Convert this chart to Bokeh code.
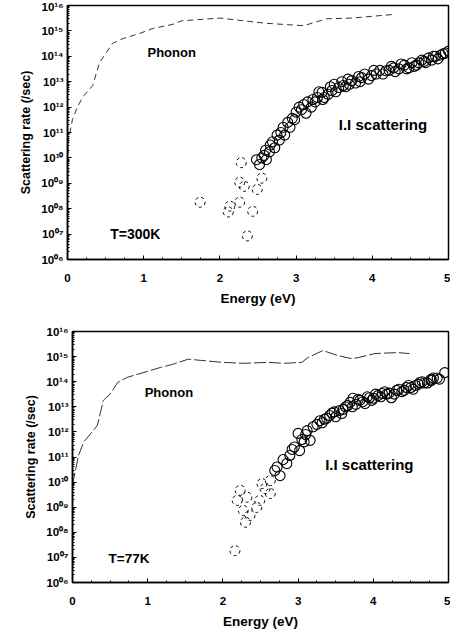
from bokeh.plotting import figure
from bokeh.layouts import column, row
from bokeh.models import FixedTicker, CustomJSTickFormatter, Label, Range1d
from bokeh.embed import file_html
from bokeh.resources import INLINE

# ---------------- data ----------------
energy_ticks = [0, 1, 2, 3, 4, 5]
rate_ticks = [1e6, 1e7, 1e8, 1e9, 1e10, 1e11, 1e12, 1e13, 1e14, 1e15, 1e16]

# T = 300 K
phonon300_e = [0.005, 0.01, 0.065, 0.13, 0.2, 0.33, 0.42, 0.59, 0.73, 0.95, 1.12,
               1.38, 1.5, 2.0, 2.6, 3.1, 3.4, 3.73, 4.3]
phonon300_r = [1e9, 5e10, 3.2e11, 1e12, 2.5e12, 7e12, 5.6e13, 3.2e14, 5e14, 8e14, 1.25e15,
               1.8e15, 2.5e15, 3.2e15, 2e15, 1.6e15, 3.0e15, 3.2e15, 4.5e15]

ii300_tail_e = [1.74, 2.11, 2.13, 2.26, 2.36, 2.43, 2.32, 2.49, 2.28, 2.55, 2.26]
ii300_tail_r = [1.8e8, 7.4e7, 1.26e8, 1.8e8, 8.5e6, 7.9e7, 7.6e8, 5.75e8, 6.5e9, 1.6e9, 1.1e9]

ii300_e = [2.48, 2.52, 2.61, 2.65, 2.69, 2.72, 2.58, 2.78, 2.8, 2.85, 2.89, 2.92, 2.95,
           3.0, 3.04, 3.1, 3.13, 3.2, 3.25, 3.28, 3.34, 3.37, 3.42, 3.47, 3.5, 3.56,
           3.62, 3.68, 3.73, 3.78, 3.86, 3.9, 3.99, 4.05, 4.1, 4.18, 4.25, 4.3, 4.35,
           4.42, 4.48, 4.55, 4.61, 4.68, 4.74, 4.78, 4.83, 4.9, 4.96,
           3.3, 3.35, 3.45, 3.52, 3.6, 3.65, 3.7, 3.82, 3.84, 3.95, 4.02, 4.14, 4.22,
           4.28, 4.38, 4.45, 4.52, 4.58, 4.65, 4.7, 4.8, 4.86, 4.93, 5.0, 3.15, 3.22,
           3.07, 2.98, 2.83, 2.75, 2.66, 2.6, 2.55]
ii300_r = [8.5e9, 5.5e9, 8.5e9, 1.74e10, 4.3e10, 2.5e10, 1.26e10, 5e10, 1e11, 7.9e10,
           2.5e11, 1.6e11, 3.6e11, 6.3e11, 1e12, 1.26e12, 5.75e11, 1e12, 1.6e12, 2.4e12,
           3.8e12, 2.4e12, 3.2e12, 4.5e12, 7.9e12, 5.9e12, 7.1e12, 1.26e13, 1.1e13,
           8.9e12, 1.45e13, 2e13, 1.74e13, 2e13, 2.8e13, 2.7e13, 4e13, 2.5e13, 3.2e13,
           4.5e13, 3.5e13, 4e13, 5.5e13, 6.3e13, 8.7e13, 7.1e13, 1e14, 1.12e14, 1.35e14,
           4e12, 2e12, 6.3e12, 4e12, 1e13, 6.3e12, 7.9e12, 1.6e13, 1e13, 1.26e13, 2.8e13,
           2e13, 2.8e13, 3.5e13, 5e13, 3.2e13, 5.6e13, 4.5e13, 7.1e13, 5.6e13, 1e14,
           7.9e13, 1.26e14, 1.6e14, 1.6e12, 2e12, 7.9e11, 3.2e11, 1.6e11, 7.9e10, 3.2e10,
           2e10, 1e10]

# T = 77 K
phonon77_e = [0.0, 0.08, 0.15, 0.33, 0.41, 0.5, 0.6, 0.73, 0.94, 1.17, 1.34, 1.54, 1.7,
              1.99, 2.29, 2.6, 2.82, 3.05, 3.13, 3.33, 3.53, 3.71, 3.8, 4.02, 4.32, 4.48]
phonon77_r = [7.9e9, 1.15e11, 4e11, 1.8e12, 1.8e13, 3.2e13, 9.3e13, 1.5e14, 2.3e14,
              3.7e14, 5e14, 7.9e14, 7.1e14, 5.9e14, 5.4e14, 5.9e14, 5.4e14, 5.9e14,
              9.1e14, 1.74e15, 1.1e15, 8.3e14, 9.1e14, 1.32e15, 1.45e15, 1.32e15]

ii77_tail_e = [2.16, 2.19, 2.23, 2.27, 2.32, 2.36, 2.45, 2.49, 2.52, 2.56, 2.63, 2.63, 2.3]
ii77_tail_r = [1.86e7, 1.86e9, 4.7e9, 7.4e8, 2.5e9, 4.7e8, 9.8e8, 1.86e9, 8.7e9, 5.5e9,
               3.5e9, 1.15e10, 2.5e8]

ii77_e = [2.69, 2.76, 2.85, 2.89, 2.95, 3.02, 3.0, 3.08, 3.1, 3.16, 3.2, 3.29, 3.32,
          3.38, 3.42, 3.48, 3.55, 3.58, 3.63, 3.69, 3.73, 3.77, 3.82, 3.89, 3.95, 4.0,
          4.06, 4.12, 4.18, 4.24, 4.31, 4.38, 4.44, 4.5, 4.56, 4.62, 4.68, 4.77, 4.77,
          4.85, 4.95,
          3.25, 3.35, 3.45, 3.5, 3.6, 3.66, 3.72, 3.8, 3.86, 3.92, 3.98, 4.03, 4.1,
          4.15, 4.21, 4.28, 4.34, 4.41, 4.47, 4.53, 4.6, 4.65, 4.72, 4.8, 4.88, 3.12,
          3.05, 2.92, 2.8, 2.72]
ii77_r = [2.9e10, 1.8e10, 5.5e10, 1.15e11, 2.5e11, 1.8e11, 8.7e11, 4e11, 7.9e11, 4.6e11,
          1.6e12, 2.8e12, 2.3e12, 3.5e12, 4.5e12, 6.3e12, 7.1e12, 5.4e12, 1e13, 1.5e13,
          2.2e13, 1.26e13, 1.8e13, 1.35e13, 2.3e13, 2.2e13, 2.8e13, 3.4e13, 3.2e13,
          2.3e13, 4.5e13, 4e13, 5.9e13, 5.9e13, 7.1e13, 9.3e13, 8.9e13, 1.12e14,
          1.26e14, 1.4e14, 2.3e14,
          2e12, 3.2e12, 5.6e12, 4e12, 7.9e12, 1.12e13, 1e13, 2e13, 1.6e13, 2.5e13,
          1.8e13, 3.2e13, 2.5e13, 4e13, 3.5e13, 3.2e13, 5e13, 4.5e13, 7.1e13, 5e13,
          7.9e13, 1e14, 8.9e13, 1.4e14, 1.26e14, 1.12e12, 5e11, 2e11, 7.9e10, 4e10]

FONT = "Liberation Sans"

SUP_JS = """
const sup = {"0":"\u2070","1":"\u00b9","2":"\u00b2","3":"\u00b3","4":"\u2074",
             "5":"\u2075","6":"\u2076","7":"\u2077","8":"\u2078","9":"\u2079"};
const e = Math.round(Math.log10(tick));
const s = String(e).padStart(2, "0");
return "10" + s.split("").map(c => sup[c]).join("");
"""


def make_panel(height, border_left, border_top, border_bottom,
               ph_e, ph_r, ph_dash, tail_e, tail_r, main_e, main_r,
               labels):
    p = figure(width=450, height=height, x_range=Range1d(0, 5),
               y_range=Range1d(1e6, 1e16), y_axis_type="log",
               output_backend="svg", toolbar_location=None,
               min_border_left=border_left, min_border_right=2,
               min_border_top=border_top, min_border_bottom=border_bottom,
               background_fill_color="white", border_fill_color="white")
    p.xgrid.visible = False
    p.ygrid.visible = False
    p.outline_line_color = "black"
    p.outline_line_width = 1.5

    minor_y = [m * 10 ** k for k in range(6, 16) for m in range(2, 10)]
    p.yaxis.ticker = FixedTicker(ticks=rate_ticks, minor_ticks=minor_y)
    p.yaxis.formatter = CustomJSTickFormatter(code=SUP_JS)
    minor_x = [i * 0.25 for i in range(21)]
    p.xaxis.ticker = FixedTicker(ticks=energy_ticks, minor_ticks=minor_x)

    for ax in (p.xaxis[0], p.yaxis[0]):
        ax.axis_line_color = "black"
        ax.axis_line_width = 1.5
        ax.major_tick_in = 4
        ax.major_tick_out = 0
        ax.minor_tick_in = 2
        ax.minor_tick_out = 0
        ax.major_tick_line_color = "black"
        ax.minor_tick_line_color = "black"
        ax.major_label_text_font = FONT
        ax.major_label_text_font_style = "bold"
        ax.major_label_text_color = "black"
        ax.axis_label_text_font = FONT
        ax.axis_label_text_font_style = "bold"
        ax.axis_label_text_color = "black"

    p.xaxis.major_label_text_font_size = "11.5px"
    p.yaxis.major_label_text_font_size = "11.5px"
    p.xaxis.axis_label = "Energy (eV)"
    p.xaxis.axis_label_text_font_size = "13.5px"
    p.xaxis.major_label_standoff = 14
    p.xaxis.axis_label_standoff = 6
    p.yaxis.axis_label = "Scattering rate (/sec)"
    p.yaxis.axis_label_text_font_size = "12.5px"
    p.yaxis.major_label_standoff = 4
    p.yaxis.axis_label_standoff = 5

    p.line(ph_e, ph_r, line_color="#333333", line_width=1, line_dash=ph_dash)
    p.scatter(tail_e, tail_r, marker="circle", size=10, fill_color=None,
              line_color="black", line_width=1, line_dash="3 3")
    p.scatter(main_e, main_r, marker="circle", size=10, fill_color=None,
              line_color="black", line_width=1.1)

    for (tx, ty, txt, fs) in labels:
        p.add_layout(Label(x=tx, y=ty, text=txt, text_font=FONT,
                           text_font_style="bold", text_font_size=fs,
                           text_color="black", text_baseline="middle",
                           text_align="left"))
    return p


p1 = make_panel(308, 67, 5, 47,
                phonon300_e, phonon300_r, "6 4",
                ii300_tail_e, ii300_tail_r, ii300_e, ii300_r,
                [(1.05, 1.45e14, "Phonon", "13px"),
                 (3.56, 2.0e11, "I.I scattering", "15px"),
                 (0.56, 1.05e7, "T=300K", "14px")])

p2 = make_panel(324, 72, 23, 50,
                phonon77_e, phonon77_r, "12 3",
                ii77_tail_e, ii77_tail_r, ii77_e, ii77_r,
                [(0.96, 3.7e13, "Phonon", "13px"),
                 (3.36, 5.0e10, "I.I scattering", "15px"),
                 (0.48, 9.1e6, "T=77K", "13.5px")])

layout = column(row(p1), row(p2), spacing=0)

open("out.html", "w").write(file_html(layout, INLINE))
